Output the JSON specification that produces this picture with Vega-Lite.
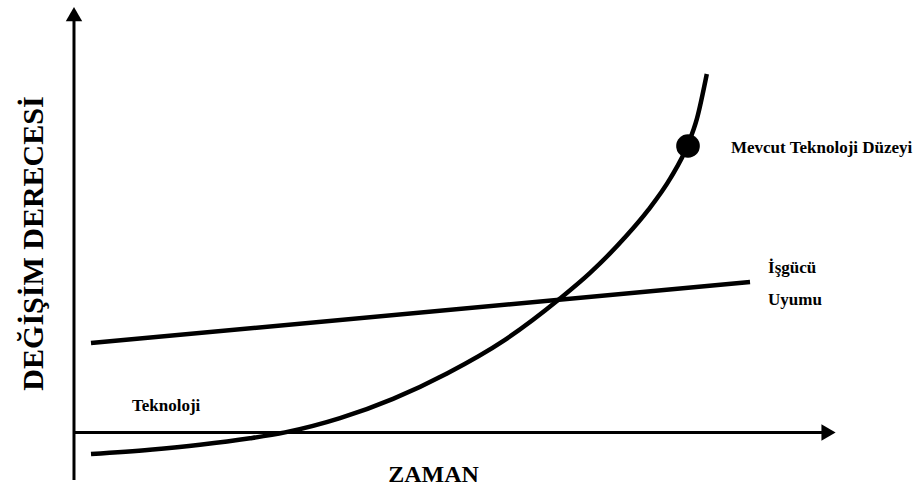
{
  "$schema": "https://vega.github.io/schema/vega-lite/v6.json",
  "width": 762,
  "height": 423,
  "autosize": {"type": "none"},
  "padding": {"left": 73, "top": 10, "right": 87, "bottom": 55},
  "background": "white",
  "config": {
    "view": {"stroke": null},
    "font": "Liberation Serif",
    "axis": {"domain": false, "ticks": false, "labels": false, "grid": false, "titleFont": "Liberation Serif", "titleFontWeight": "bold", "titleColor": "black"}
  },
  "datasets": {
    "axes": [
      {"seg": "y", "i": 0, "x": 0.13, "y": -11.1},
      {"seg": "y", "i": 1, "x": 0.13, "y": 97.5},
      {"seg": "x", "i": 0, "x": 0, "y": 0.12},
      {"seg": "x", "i": 1, "x": 98.3, "y": 0.12}
    ],
    "arrows": [
      {"dir": "up", "x": 0.13, "y": 99.0},
      {"dir": "right", "x": 99.15, "y": 0.12}
    ],
    "tech": [
      {"x": 2.362, "y": -4.965},
      {"x": 10.105, "y": -3.948},
      {"x": 16.667, "y": -2.79},
      {"x": 23.228, "y": -1.253},
      {"x": 27.822, "y": 0.142},
      {"x": 35.039, "y": 3.522},
      {"x": 41.995, "y": 8.085},
      {"x": 49.081, "y": 14.09},
      {"x": 56.693, "y": 22.033},
      {"x": 63.911, "y": 31.797},
      {"x": 67.822, "y": 37.801},
      {"x": 72.598, "y": 46.548},
      {"x": 75.499, "y": 52.742},
      {"x": 78.386, "y": 60.189},
      {"x": 80.709, "y": 68.227},
      {"x": 81.864, "y": 74.184},
      {"x": 83.176, "y": 84.87}
    ],
    "work": [
      {"x": 2.36, "y": 21.28},
      {"x": 88.85, "y": 35.7}
    ],
    "dot": [
      {"x": 80.709, "y": 67.85}
    ],
    "labels": [
      {"label": "Teknoloji", "x": 7.74, "y": 5.2},
      {"label": "Mevcut Teknoloji Düzeyi", "x": 86.35, "y": 66.2},
      {"label": "İşgücü", "x": 91.21, "y": 37.83},
      {"label": "Uyumu", "x": 91.21, "y": 30.26}
    ]
  },
  "encoding": {
    "x": {"field": "x", "type": "quantitative", "scale": {"domain": [0, 100], "nice": false, "zero": false}, "axis": {"title": "ZAMAN", "titleFontSize": 24, "titleX": 360, "titleY": 48, "titleAlign": "center", "titleBaseline": "alphabetic"}},
    "y": {"field": "y", "type": "quantitative", "scale": {"domain": [0, 100], "nice": false, "zero": false}, "axis": {"title": "DEĞİŞİM DERECESİ", "titleFontSize": 30, "titleX": -31, "titleY": 233, "titleAngle": -90, "titleAlign": "center", "titleBaseline": "alphabetic"}}
  },
  "layer": [
    {
      "data": {"name": "axes"},
      "mark": {"type": "line", "color": "black", "strokeWidth": 3, "clip": false},
      "encoding": {"detail": {"field": "seg"}, "order": {"field": "i", "type": "quantitative"}}
    },
    {
      "data": {"name": "arrows"},
      "mark": {"type": "point", "filled": true, "color": "black", "opacity": 1, "size": 270, "clip": false},
      "encoding": {"shape": {"field": "dir", "type": "nominal", "scale": {"domain": ["up", "right"], "range": ["triangle-up", "triangle-right"]}, "legend": null}}
    },
    {
      "data": {"name": "tech"},
      "mark": {"type": "line", "color": "black", "strokeWidth": 4.5, "interpolate": "monotone", "clip": false},
      "encoding": {}
    },
    {
      "data": {"name": "work"},
      "mark": {"type": "line", "color": "black", "strokeWidth": 4.5, "clip": false},
      "encoding": {}
    },
    {
      "data": {"name": "dot"},
      "mark": {"type": "circle", "color": "black", "opacity": 1, "size": 560, "clip": false},
      "encoding": {}
    },
    {
      "data": {"name": "labels"},
      "mark": {"type": "text", "align": "left", "baseline": "alphabetic", "font": "Liberation Serif", "fontWeight": "bold", "fontSize": 17, "color": "black", "clip": false},
      "encoding": {"text": {"field": "label", "type": "nominal"}}
    }
  ]
}
